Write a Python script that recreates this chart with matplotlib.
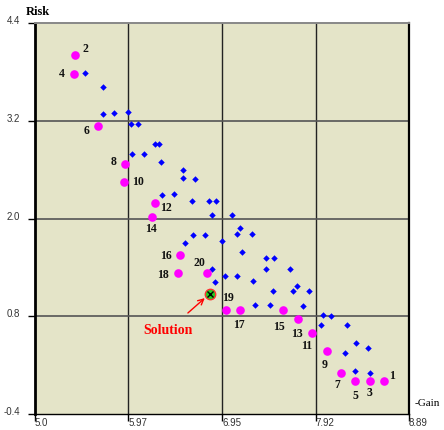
import matplotlib
matplotlib.use("Agg")
import matplotlib.pyplot as plt
import matplotlib.transforms as mtransforms

# numbered (pareto) solutions 1..20
front_ids = list(range(1, 21))
front_gain = [8.633, 5.419, 8.481, 5.406, 8.332, 5.652, 8.183, 5.941, 8.032, 5.924,
              7.884, 6.246, 7.736, 6.212, 7.582, 6.508, 7.135, 6.491, 6.990, 6.789]
front_risk = [0.00, 4.007, 0.00, 3.778, 0.00, 3.136, 0.10, 2.667, 0.374, 2.454,
              0.592, 2.194, 0.763, 2.018, 0.881, 1.556, 0.881, 1.335, 0.881, 1.331]

# other population members
pop_gain = [5.520, 5.707, 5.707, 5.825, 5.964, 6.002, 6.069, 6.246, 6.290, 6.011,
            6.137, 6.314, 6.541, 6.541, 6.661, 6.323, 6.448, 6.628, 6.813, 6.881,
            6.846, 7.052, 7.135, 7.101, 7.254, 6.643, 6.771, 6.560, 6.948, 7.153,
            7.403, 7.483, 7.403, 7.652, 6.841, 6.875, 6.976, 7.101, 7.271, 7.472,
            7.684, 7.727, 7.853, 7.288, 7.441, 7.785, 7.999, 8.082, 7.978, 8.248,
            8.336, 8.461, 8.224, 8.325, 8.488]
pop_risk = [3.786, 3.611, 3.287, 3.295, 3.304, 3.166, 3.156, 2.917, 2.917, 2.788,
            2.796, 2.696, 2.595, 2.494, 2.485, 2.285, 2.295, 2.215, 2.215, 2.215,
            2.047, 2.047, 1.883, 1.806, 1.806, 1.794, 1.794, 1.703, 1.724, 1.585,
            1.511, 1.511, 1.374, 1.374, 1.384, 1.224, 1.294, 1.294, 1.235, 1.114,
            1.114, 1.174, 1.114, 0.944, 0.944, 0.922, 0.812, 0.803, 0.693, 0.693,
            0.475, 0.410, 0.353, 0.124, 0.103]

solution_gain = 6.820
solution_risk = 1.079

x_ticks = [5.0, 5.97, 6.95, 7.92, 8.89]
x_ticklabels = ["5.0", "5.97", "6.95", "7.92", "8.89"]
y_ticks = [-0.4, 0.8, 2.0, 3.2, 4.4]
y_ticklabels = ["-0.4", "0.8", "2.0", "3.2", "4.4"]

# label offsets in pixels (dx right, dy up)
label_off = {1: (8, 5), 2: (10, 6), 3: (0, -12), 4: (-12, 0), 5: (0, -15),
             6: (-11, -5), 7: (-4, -12), 8: (-12, 2), 9: (-2, -14), 10: (14, 0),
             11: (-6, -13), 12: (11, -5), 13: (-1, -15), 14: (-1, -12), 15: (-4, -17),
             16: (-14, -1), 17: (-1, -15), 18: (-15, -2), 19: (2, 12), 20: (-8, 10)}

fig = plt.figure(figsize=(4.44, 4.30), dpi=100)
ax = fig.add_axes([35 / 444, 1 - 414 / 430, 374 / 444, 391 / 430])
ax.set_facecolor("#E4E4C8")
ax.set_xlim(5.0, 8.89)
ax.set_ylim(-0.4, 4.4)

for gx in x_ticks[1:-1]:
    ax.axvline(gx, color="#222222", lw=1.0, zorder=1)
for gy in y_ticks[1:-1]:
    ax.axhline(gy, color="#555555", lw=1.2, zorder=1)

ax.plot(pop_gain, pop_risk, "D", color="#0000FF", ms=3.3, mew=0, zorder=3)
ax.plot(front_gain, front_risk, "o", color="#FF00FF", ms=6.2, mew=0, zorder=4)
ax.plot(solution_gain, solution_risk, "o", color="#22CC22", mec="#FF3030",
        ms=7.5, mew=1.0, zorder=5)
ax.plot(solution_gain, solution_risk, "x", color="black", ms=4, mew=1.0, zorder=6)

for i, gx, gy in zip(front_ids, front_gain, front_risk):
    ax.annotate(str(i), (gx, gy), xytext=label_off[i], textcoords="offset pixels",
                ha="center", va="center", fontsize=8.5, fontweight="bold",
                family="Liberation Serif", color="#111111", zorder=7)

ax.annotate("Solution", (solution_gain, solution_risk), xytext=(-42, -37),
            textcoords="offset pixels", ha="center", va="center",
            fontsize=10, fontweight="bold", family="Liberation Serif", color="#FF0000",
            arrowprops=dict(arrowstyle="->", color="#FF0000", lw=1.0,
                            shrinkA=9, shrinkB=5))

ax.set_xticks(x_ticks)
ax.set_xticklabels(x_ticklabels, ha="left", family="Liberation Sans", fontsize=7,
                   color="#333333")
ax.set_yticks(y_ticks)
ax.set_yticklabels(y_ticklabels, family="Liberation Sans", fontsize=7, color="#333333")
ax.tick_params(axis="x", length=5, width=1, pad=-2, direction="out")
ax.tick_params(axis="y", length=5, width=1, pad=6, direction="out")
up = mtransforms.ScaledTranslation(0, 3 / 100, fig.dpi_scale_trans)
for lab in ax.get_yticklabels():
    lab.set_transform(lab.get_transform() + up)

ax.spines["left"].set_linewidth(2.0)
ax.spines["left"].set_color("black")
ax.spines["right"].set_linewidth(1.6)
ax.spines["right"].set_color("black")
ax.spines["top"].set_linewidth(1.4)
ax.spines["top"].set_color("#888888")
ax.spines["bottom"].set_linewidth(1.0)
ax.spines["bottom"].set_color("black")

fig.text(26 / 444, 1 - 12 / 430, "Risk", ha="left", va="center", fontsize=9,
         fontweight="bold", family="Liberation Serif")
fig.text(415 / 444, 1 - 403 / 430, "-Gain", ha="left", va="center", fontsize=8,
         family="Liberation Serif")

fig.savefig("out.png", dpi=100, facecolor="white")
